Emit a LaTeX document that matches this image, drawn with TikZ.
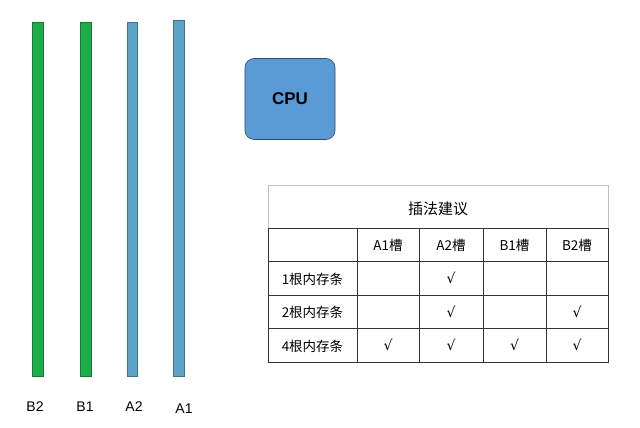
\documentclass[tikz,border=0pt]{standalone}
\usepackage{fontspec}
\setmainfont{Liberation Sans}
\newfontfamily\cjk{Noto Sans CJK SC}
\newfontfamily\chk{DejaVu Serif}
\begin{document}
\begin{tikzpicture}[x=1pt,y=-1pt,
  lbl/.style={font=\fontsize{14}{16}\selectfont},
  cell/.style={font=\cjk\fontsize{13.5}{15}\selectfont},
  ck/.style={font=\chk\fontsize{14}{16}\selectfont},
  grid/.style={draw=black!80, line width=1pt}]
\definecolor{gbar}{HTML}{1AAE4A}
\definecolor{bbar}{HTML}{5BA3C7}
\definecolor{cpu}{HTML}{5B9BD5}
\useasboundingbox (0,0) rectangle (640,428);
\fill[white] (0,0) rectangle (640,428);
% bars
\draw[fill=gbar,draw=gbar!70!black] (32,22) rectangle (43,376);
\draw[fill=gbar,draw=gbar!70!black] (80,22) rectangle (91,376);
\draw[fill=bbar,draw=bbar!70!black] (127,22) rectangle (137,376);
\draw[fill=bbar,draw=bbar!70!black] (173,20) rectangle (184,376);
\node[lbl] (lb2) at (35,407) {B2};
\node[lbl] (lb1) at (85,407) {B1};
\node[lbl] (la2) at (134,407) {A2};
\node[lbl] (la1) at (184,409) {A1};
% CPU
\node[draw=cpu!50!black, fill=cpu, rounded corners=9pt, minimum width=90pt, minimum height=81pt, font=\bfseries\fontsize{17}{19}\selectfont, line width=0.6pt] (cpu) at (290,99) {CPU};
% table
\draw[draw=black!25] (268,185) rectangle (608,228);
\node[cell,font=\cjk\fontsize{15}{17}\selectfont] (title) at (438,209) {插法建议};
\draw[grid] (268,228) rectangle (608,362);
\foreach \y in {261,295,328} \draw[grid] (268,\y) -- (608,\y);
\foreach \x in {357,419,483,546} \draw[grid] (\x,228) -- (\x,362);
\node[cell] (h1) at (388,245) {A1槽};
\node[cell] (h2) at (451,245) {A2槽};
\node[cell] (h3) at (514.5,245) {B1槽};
\node[cell] (h4) at (577,245) {B2槽};
\node[cell] (r1) at (312.5,279) {1根内存条};
\node[cell] (r2) at (312.5,312.5) {2根内存条};
\node[cell] (r4) at (312.5,346) {4根内存条};
\node[ck] (c12) at (451,278) {√};
\node[ck] (c22) at (451,311.5) {√};
\node[ck] (c24) at (577,311.5) {√};
\node[ck] (c41) at (388,345) {√};
\node[ck] (c42) at (451,345) {√};
\node[ck] (c43) at (514.5,345) {√};
\node[ck] (c44) at (577,345) {√};
\end{tikzpicture}
\end{document}
